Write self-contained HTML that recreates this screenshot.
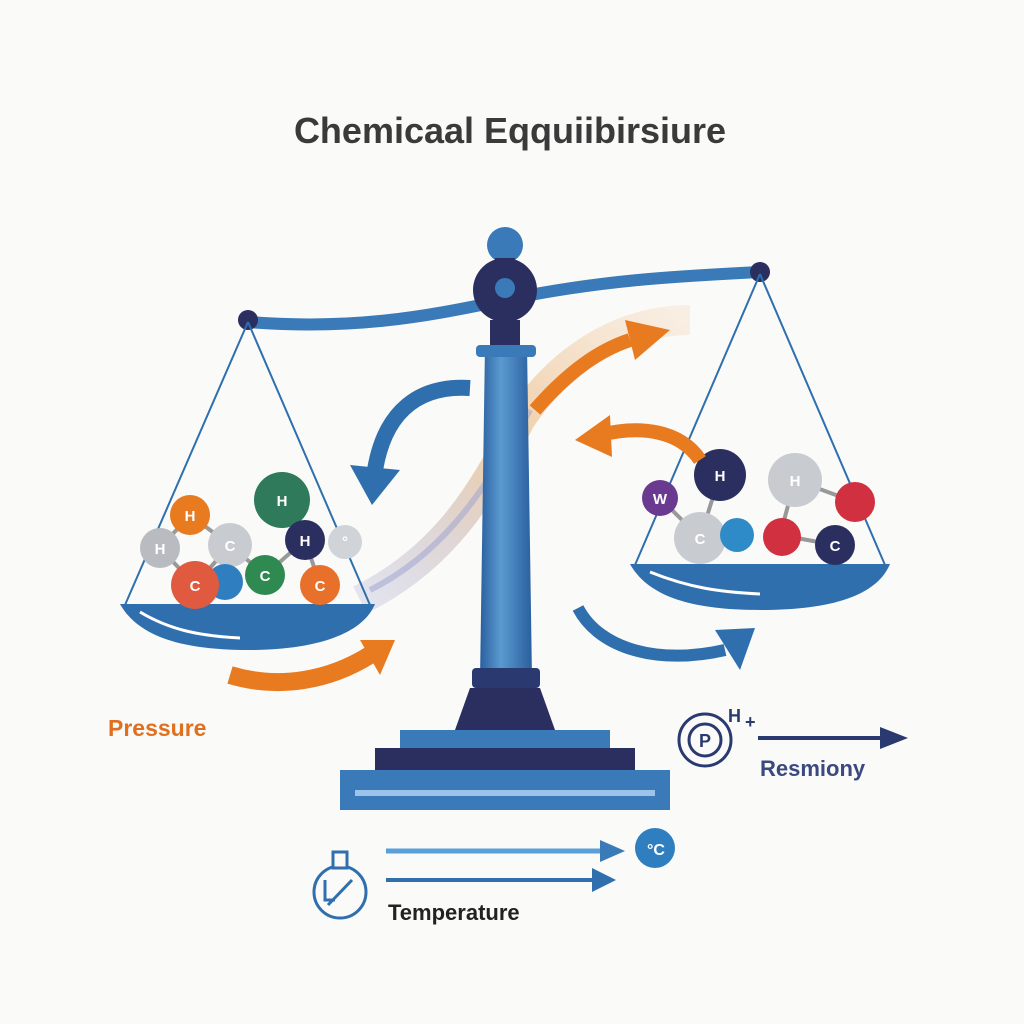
<!DOCTYPE html>
<html><head><meta charset="utf-8"><style>
html,body{margin:0;padding:0;background:#fafaf8;}
svg{display:block;}
text{font-family:"Liberation Sans",sans-serif;}
</style></head><body>
<svg width="1024" height="1024" viewBox="0 0 1024 1024" xmlns="http://www.w3.org/2000/svg">
<defs>
<linearGradient id="pil" x1="0" x2="1"><stop offset="0" stop-color="#2a5f9e"/><stop offset="0.4" stop-color="#5a9ad0"/><stop offset="1" stop-color="#2a5f9e"/></linearGradient>
<linearGradient id="swoosh" x1="0" y1="1" x2="1" y2="0"><stop offset="0" stop-color="#8a8fc8" stop-opacity="0.2"/><stop offset="0.5" stop-color="#e8b070" stop-opacity="0.6"/><stop offset="1" stop-color="#f0c090" stop-opacity="0.2"/></linearGradient>
</defs>
<rect width="1024" height="1024" fill="#fafaf8"/>
<text x="510" y="143" text-anchor="middle" font-size="36" font-weight="bold" fill="#3a3a3a">Chemicaal Eqquiibirsiure</text>

<!-- swoosh -->
<path d="M360,600 C440,560 480,500 520,420 C560,360 620,320 690,320" stroke="url(#swoosh)" stroke-width="30" fill="none"/>
<path d="M370,590 C450,550 490,480 530,410" stroke="#9a9fd0" stroke-width="6" fill="none" opacity="0.5"/>

<!-- beam -->
<path d="M248,322 C350,330 420,318 505,300 C600,280 680,276 760,272" stroke="#3a7ab8" stroke-width="12" fill="none"/>
<circle cx="248" cy="320" r="10" fill="#2a2f60"/>
<circle cx="760" cy="272" r="10" fill="#2a2f60"/>

<!-- strings -->
<g stroke="#2f6fae" stroke-width="2" fill="none">
<path d="M248,322 L125,605 M248,322 L370,605"/>
<path d="M760,274 L635,565 M760,274 L885,565"/>
</g>

<!-- pillar -->
<path d="M485,345 L527,345 L532,680 L480,680z" fill="url(#pil)"/>
<rect x="476" y="345" width="60" height="12" rx="4" fill="#3a7ab8"/>
<rect x="472" y="668" width="68" height="20" rx="4" fill="#2a3a70"/>
<path d="M470,688 L540,688 L555,730 L455,730z" fill="#2a2f60"/>
<rect x="400" y="730" width="210" height="20" fill="#3a7ab8"/>
<rect x="375" y="748" width="260" height="22" fill="#2a2f60"/>
<rect x="340" y="770" width="330" height="40" fill="#3a7ab8"/>
<rect x="355" y="790" width="300" height="6" fill="#9cc4e8"/>
<circle cx="505" cy="245" r="18" fill="#3a7ab8"/>
<rect x="495" y="258" width="20" height="10" fill="#2a2f60"/>
<circle cx="505" cy="290" r="32" fill="#2a2f60"/>
<circle cx="505" cy="288" r="10" fill="#3a7ab8"/>
<rect x="490" y="320" width="30" height="25" fill="#2a2f60"/>

<!-- left pan -->
<path d="M120,604 L375,604 C360,640 300,650 250,650 C190,650 140,640 120,604z" fill="#2f6fae"/>
<path d="M140,612 C170,630 200,636 240,638" stroke="#fff" stroke-width="3" fill="none"/>
<!-- right pan -->
<path d="M630,564 L890,564 C875,600 820,610 760,610 C700,610 650,600 630,564z" fill="#2f6fae"/>
<path d="M650,572 C690,588 720,592 760,594" stroke="#fff" stroke-width="3" fill="none"/>

<!-- left molecules -->
<g stroke="#999" stroke-width="4" fill="none">
<path d="M190,515 L160,548 M160,548 L195,585 M195,585 L230,545 M230,545 L265,575 M265,575 L305,540 M305,540 L320,585 M230,545 L190,515 M305,540 L282,500"/>
</g>
<g font-size="15" font-weight="bold" text-anchor="middle" fill="#fff">
<circle cx="282" cy="500" r="28" fill="#2e7a5a"/><text x="282" y="506">H</text>
<circle cx="190" cy="515" r="20" fill="#e87a20"/><text x="190" y="521">H</text>
<circle cx="160" cy="548" r="20" fill="#b8bcc0"/><text x="160" y="554">H</text>
<circle cx="230" cy="545" r="22" fill="#c8ccd0"/><text x="230" y="551">C</text>
<circle cx="345" cy="542" r="17" fill="#d0d4d8"/><text x="345" y="547">°</text>
<circle cx="305" cy="540" r="20" fill="#2a2f60"/><text x="305" y="546">H</text>
<circle cx="225" cy="582" r="18" fill="#2f7fc0"/>
<circle cx="195" cy="585" r="24" fill="#e05a40"/><text x="195" y="591">C</text>
<circle cx="265" cy="575" r="20" fill="#2e8a50"/><text x="265" y="581">C</text>
<circle cx="320" cy="585" r="20" fill="#e8702a"/><text x="320" y="591">C</text>
</g>

<!-- right molecules -->
<g stroke="#999" stroke-width="4" fill="none">
<path d="M660,498 L700,538 M700,538 L720,475 M700,538 L735,535 M795,480 L780,535 M780,535 L835,545 M795,480 L855,502"/>
</g>
<g font-size="15" font-weight="bold" text-anchor="middle" fill="#fff">
<circle cx="720" cy="475" r="26" fill="#2a2f60"/><text x="720" y="481">H</text>
<circle cx="660" cy="498" r="18" fill="#6a3a90"/><text x="660" y="504">W</text>
<circle cx="700" cy="538" r="26" fill="#c8ccd0"/><text x="700" y="544">C</text>
<circle cx="737" cy="535" r="17" fill="#2f8ac8"/>
<circle cx="795" cy="480" r="27" fill="#c8ccd0"/><text x="795" y="486">H</text>
<circle cx="855" cy="502" r="20" fill="#d03040"/>
<circle cx="782" cy="537" r="19" fill="#d03040"/>
<circle cx="835" cy="545" r="20" fill="#2a2f60"/><text x="835" y="551">C</text>
</g>

<!-- arrows -->
<path d="M470,388 C420,385 385,410 375,470" stroke="#2f6fae" stroke-width="16" fill="none"/>
<path d="M350,465 L400,470 L372,505z" fill="#2f6fae"/>
<path d="M535,410 C570,370 600,350 630,340" stroke="#e87a20" stroke-width="14" fill="none"/>
<path d="M625,320 L670,330 L635,360z" fill="#e87a20"/>
<path d="M700,460 C680,430 640,425 600,435" stroke="#e87a20" stroke-width="14" fill="none"/>
<path d="M610,415 L575,440 L612,457z" fill="#e87a20"/>
<path d="M230,675 C280,690 330,680 370,655" stroke="#e87a20" stroke-width="18" fill="none"/>
<path d="M360,640 L395,640 L380,675z" fill="#e87a20"/>
<path d="M578,608 C600,650 660,665 725,650" stroke="#2f6fae" stroke-width="12" fill="none"/>
<path d="M715,630 L755,628 L740,670z" fill="#2f6fae"/>

<!-- Pressure -->
<text x="108" y="736" font-size="23" font-weight="bold" fill="#e07020">Pressure</text>

<!-- Resmiony -->
<circle cx="705" cy="740" r="26" fill="none" stroke="#2a3a70" stroke-width="3"/>
<circle cx="705" cy="740" r="16" fill="none" stroke="#2a3a70" stroke-width="3"/>
<text x="705" y="747" font-size="18" font-weight="bold" fill="#2a3a70" text-anchor="middle">P</text>
<text x="728" y="722" font-size="18" font-weight="bold" fill="#2a3a70">H</text>
<text x="745" y="728" font-size="18" font-weight="bold" fill="#2a3a70">+</text>
<line x1="758" y1="738" x2="885" y2="738" stroke="#2a3a70" stroke-width="4"/>
<path d="M880,727 L908,738 L880,749z" fill="#2a3a70"/>
<text x="760" y="776" font-size="22" font-weight="bold" fill="#3a4a80">Resmiony</text>

<!-- Temperature -->
<circle cx="340" cy="892" r="26" fill="none" stroke="#2f6fae" stroke-width="3"/>
<rect x="333" y="852" width="14" height="16" fill="#fafaf8" stroke="#2f6fae" stroke-width="3"/>
<path d="M325,880 L325,900 L335,900 M328,905 L352,880" stroke="#2f6fae" stroke-width="3" fill="none"/>
<line x1="386" y1="851" x2="605" y2="851" stroke="#5aa0d8" stroke-width="5"/>
<path d="M600,840 L625,851 L600,862z" fill="#3a7ab8"/>
<line x1="386" y1="880" x2="595" y2="880" stroke="#2f6fae" stroke-width="4"/>
<path d="M592,868 L616,880 L592,892z" fill="#2f6fae"/>
<circle cx="655" cy="848" r="20" fill="#2f7fc0"/>
<text x="656" y="855" font-size="16" font-weight="bold" fill="#fff" text-anchor="middle">°C</text>
<text x="388" y="920" font-size="22" font-weight="bold" fill="#222">Temperature</text>
</svg>
</body></html>
